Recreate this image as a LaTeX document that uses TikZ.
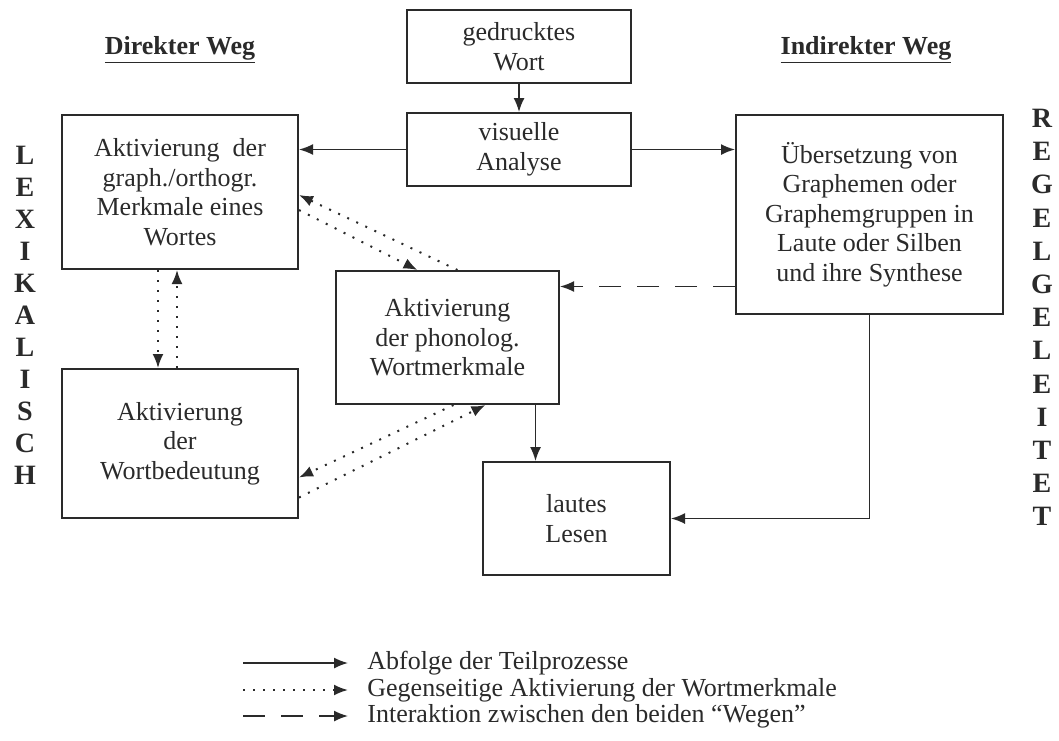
\documentclass[tikz,border=0pt]{standalone}
\usepackage{fontspec}
\setmainfont{Liberation Serif}
\usetikzlibrary{arrows.meta,positioning,calc}
\definecolor{ink}{HTML}{2A2A2A}

\begin{document}
\begin{tikzpicture}[x=0.5pt,y=-0.5pt, ink,
  box/.style={rectangle, draw, line width=1pt, align=center, inner sep=2pt, font=\fontsize{13}{14.75}\selectfont},
  head/.style={font=\fontsize{13}{15}\selectfont\bfseries},
  side/.style={align=center, inner sep=0pt, font=\fontsize{14}{16}\selectfont\bfseries},
  legtext/.style={anchor=west, inner sep=0pt, font=\fontsize{13}{15}\selectfont},
  arr/.style={-{Latex[length=7pt,width=5.5pt]}, line width=0.8pt},
  dotarr/.style={arr, line width=1pt, dash pattern=on 1pt off 4pt},
  dasharr/.style={arr, dash pattern=on 11pt off 8pt}
]
  \useasboundingbox (0,0) rectangle (1059,740);

  \node[box, minimum width=112pt, minimum height=36.5pt] (druck) at (519,46.5) {gedrucktes\\Wort};
  \node[box, minimum width=112pt, minimum height=36.5pt] (visu) at (519,149.5) {visuelle\\Analyse};
  \node[box, minimum width=118pt, minimum height=77pt] (graph) at (180,192) {Aktivierung\ \ der\\graph./orthogr.\\Merkmale eines\\Wortes};
  \node[box, minimum width=118pt, minimum height=74.5pt] (bedeut) at (180,443.5) {Aktivierung\\der\\Wortbedeutung};
  \node[box, minimum width=111.5pt, minimum height=66.5pt] (phon) at (447.5,337.5) {Aktivierung\\der phonolog.\\Wortmerkmale};
  \node[box, minimum width=93.5pt, minimum height=56.5pt] (lesen) at (576.5,518.5) {lautes\\Lesen};
  \node[box, minimum width=133.5pt, minimum height=99.5pt] (uebers) at (869.5,214.5) {Übersetzung von\\Graphemen oder\\Graphemgruppen in\\Laute oder Silben\\und ihre Synthese};

  \node[head] (direkt) at (180,50) {\underline{Direkter Weg}};
  \node[head] (indirekt) at (866,50) {\underline{Indirekter Weg}};
  \node[side] (lex) at (25,315) {L\\E\\X\\I\\K\\A\\L\\I\\S\\C\\H};
  \node[side, font=\fontsize{14}{16.6}\selectfont\bfseries] (regel) at (1042,317.5) {R\\E\\G\\E\\L\\G\\E\\L\\E\\I\\T\\E\\T};

  \draw[arr] (druck) -- (visu);
  \draw[arr] (visu.west) -- (visu.west -| graph.east);
  \draw[arr] (visu.east) -- (visu.east -| uebers.west);
  \draw[arr] (uebers.south) |- (lesen.east);
  \draw[arr] ([xshift=44pt]phon.south) -- ([xshift=44pt]phon.south |- lesen.north);
  \draw[dasharr] ([yshift=-36pt]uebers.west) -- ([yshift=-36pt]uebers.west -| phon.east);

  \draw[dotarr] ([xshift=-11pt]graph.south) -- ([xshift=-11pt]graph.south |- bedeut.north);
  \draw[dotarr] ([xshift=-1.5pt]bedeut.north) -- ([xshift=-1.5pt]bedeut.north |- graph.south);
  \draw[dotarr] ([xshift=5pt]phon.north) -- ([yshift=-1.5pt]graph.east);
  \draw[dotarr] ([yshift=-9pt]graph.east) -- ([xshift=-15pt]phon.north);
  \draw[dotarr] ([xshift=3pt]phon.south) -- ([yshift=-17pt]bedeut.east);
  \draw[dotarr] ([yshift=-27pt]bedeut.east) -- ([xshift=19pt]phon.south);

  \coordinate (s1) at (243,663);
  \coordinate (e1) at (348,663);
  \coordinate (s2) at (243,690);
  \coordinate (e2) at (348,690);
  \coordinate (s3) at (243,716);
  \coordinate (e3) at (348,716);
  \draw[arr] (s1) -- (e1);
  \draw[dotarr] (s2) -- (e2);
  \draw[dasharr] (s3) -- (e3);
  \node[legtext] (t1) at (367,663) {Abfolge der Teilprozesse};
  \node[legtext] (t2) at (367,690) {Gegenseitige Aktivierung der Wortmerkmale};
  \node[legtext] (t3) at (367,716) {Interaktion zwischen den beiden “Wegen”};
\end{tikzpicture}
\end{document}
